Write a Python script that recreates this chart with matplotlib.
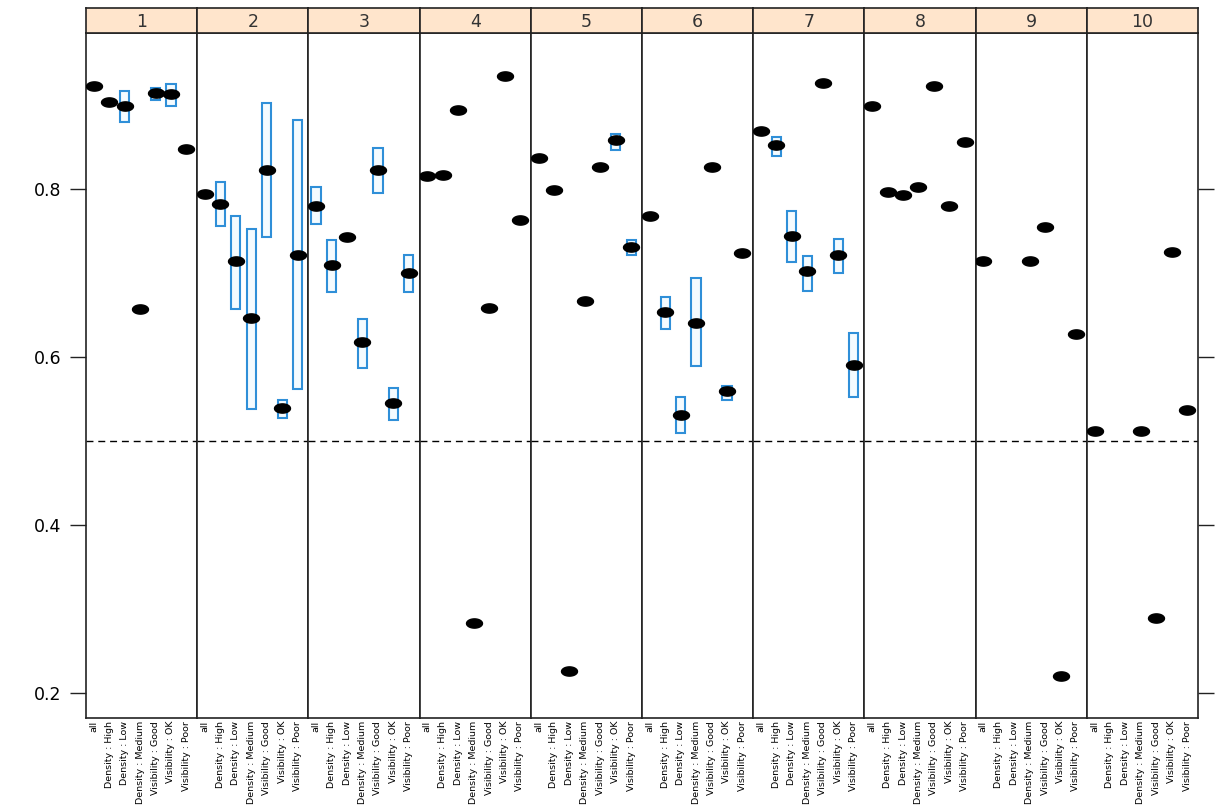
import numpy as np
import matplotlib
matplotlib.use("Agg")
import matplotlib.pyplot as plt
from matplotlib.patches import Rectangle
from matplotlib.path import Path

nan = np.nan

panels = ["1", "2", "3", "4", "5", "6", "7", "8", "9", "10"]
categories = ["all", "Density : High", "Density : Low", "Density : Medium",
              "Visibility : Good", "Visibility : OK", "Visibility : Poor"]

p1 = [0.923, 0.904, 0.899, 0.657, 0.915, 0.913, 0.848]
p2 = [0.794, 0.782, 0.714, 0.646, 0.823, 0.539, 0.722]
p3 = [0.780, 0.710, 0.743, 0.618, 0.823, 0.545, 0.700]
p4 = [0.816, 0.817, 0.894, 0.283, 0.659, 0.935, 0.763]
p5 = [0.837, 0.799, 0.226, 0.667, 0.826, 0.858, 0.731]
p6 = [0.768, 0.654, 0.531, 0.641, 0.826, 0.560, 0.724]
p7 = [0.869, 0.853, 0.744, 0.702, 0.926, 0.722, 0.591]
p8 = [0.899, 0.796, 0.793, 0.802, 0.923, 0.780, 0.856]
p9 = [0.714, nan, nan, 0.714, 0.755, 0.220, 0.627]
p10 = [0.512, nan, nan, 0.512, 0.289, 0.725, 0.537]
values = [p1, p2, p3, p4, p5, p6, p7, p8, p9, p10]

# interval boxes (lower, upper) per panel; nan = no box
lo1 = [nan, nan, 0.880, nan, 0.906, 0.899, nan]
hi1 = [nan, nan, 0.917, nan, 0.920, 0.925, nan]
lo2 = [nan, 0.756, 0.6575, 0.538, 0.743, 0.527, 0.5615]
hi2 = [nan, 0.808, 0.768, 0.752, 0.903, 0.549, 0.882]
lo3 = [0.759, 0.678, nan, 0.587, 0.795, 0.525, 0.677]
hi3 = [0.802, 0.740, nan, 0.645, 0.849, 0.563, 0.721]
lo4 = [nan] * 7
hi4 = [nan] * 7
lo5 = [nan, nan, nan, nan, nan, 0.847, 0.721]
hi5 = [nan, nan, nan, nan, nan, 0.866, 0.740]
lo6 = [nan, 0.633, 0.510, 0.589, nan, 0.549, nan]
hi6 = [nan, 0.672, 0.552, 0.694, nan, 0.5655, nan]
lo7 = [nan, 0.839, 0.7135, 0.679, nan, 0.700, 0.552]
hi7 = [nan, 0.862, 0.774, 0.720, nan, 0.741, 0.629]
lo8 = [nan] * 7
hi8 = [nan] * 7
lo9 = [nan] * 7
hi9 = [nan] * 7
lo10 = [nan] * 7
hi10 = [nan] * 7
lows = [lo1, lo2, lo3, lo4, lo5, lo6, lo7, lo8, lo9, lo10]
highs = [hi1, hi2, hi3, hi4, hi5, hi6, hi7, hi8, hi9, hi10]

ref_line = 0.5
yticks = [0.2, 0.4, 0.6, 0.8]

W, H = 1216, 807
fig = plt.figure(figsize=(W / 100, H / 100), dpi=100)

left_px, right_px = 86, 1198
top_px, bottom_px = 33, 718
strip_top = 8
pw = (right_px - left_px) / len(panels)

box_edge = "#2f8fd8"
frame_col = "#222222"

# horizontally stretched dot marker
t = np.linspace(0, 2 * np.pi, 40)
ell = Path(np.column_stack([np.cos(t), 0.58 * np.sin(t)]), closed=True)

for i, name in enumerate(panels):
    x0 = (left_px + i * pw) / W
    ax = fig.add_axes([x0, 1 - bottom_px / H, pw / W, (bottom_px - top_px) / H])
    sax = fig.add_axes([x0, 1 - top_px / H, pw / W, (top_px - strip_top) / H])

    xs = np.arange(len(categories))
    for k in range(len(categories)):
        lo, hi = lows[i][k], highs[i][k]
        if not (np.isnan(lo) or np.isnan(hi)):
            ax.add_patch(Rectangle((k - 0.3, lo), 0.6, hi - lo,
                                   facecolor="#f4fbff", edgecolor=box_edge,
                                   linewidth=1.5, zorder=2))
    ax.axhline(ref_line, color="black", linestyle=(0, (5, 3.5)), linewidth=1.0, zorder=1)
    ax.plot(xs, values[i], linestyle="none", marker=ell, markersize=11.5,
            color="black", zorder=3)

    ax.set_xlim(-0.5, 6.7)
    ax.set_ylim(0.170, 0.986)
    ax.set_xticks(xs)
    ax.set_xticklabels(categories, rotation=90, fontsize=6.8)
    ax.tick_params(axis="x", length=0, pad=2)
    ax.set_yticks(yticks)
    if i == 0:
        ax.tick_params(axis="y", left=True, right=False, labelleft=True,
                       length=11.5, width=1.0, direction="out", labelsize=12.5, pad=6,
                       color=frame_col)
        ax.set_yticklabels([f"{t:.1f}" for t in yticks])
    elif i == len(panels) - 1:
        ax.tick_params(axis="y", left=False, right=True, labelleft=False,
                       labelright=False, length=11.5, width=1.0, direction="out",
                       color=frame_col)
    else:
        ax.tick_params(axis="y", left=False, right=False, labelleft=False)
    for sp in ax.spines.values():
        sp.set_linewidth(1.2)
        sp.set_color(frame_col)

    sax.set_facecolor("#ffe5cc")
    sax.set_xticks([])
    sax.set_yticks([])
    for sp in sax.spines.values():
        sp.set_linewidth(1.2)
        sp.set_color(frame_col)
    sax.text(0.5, 0.45, name, ha="center", va="center", fontsize=12.5,
             color="#333333", transform=sax.transAxes)

fig.savefig("out.png", dpi=100)
